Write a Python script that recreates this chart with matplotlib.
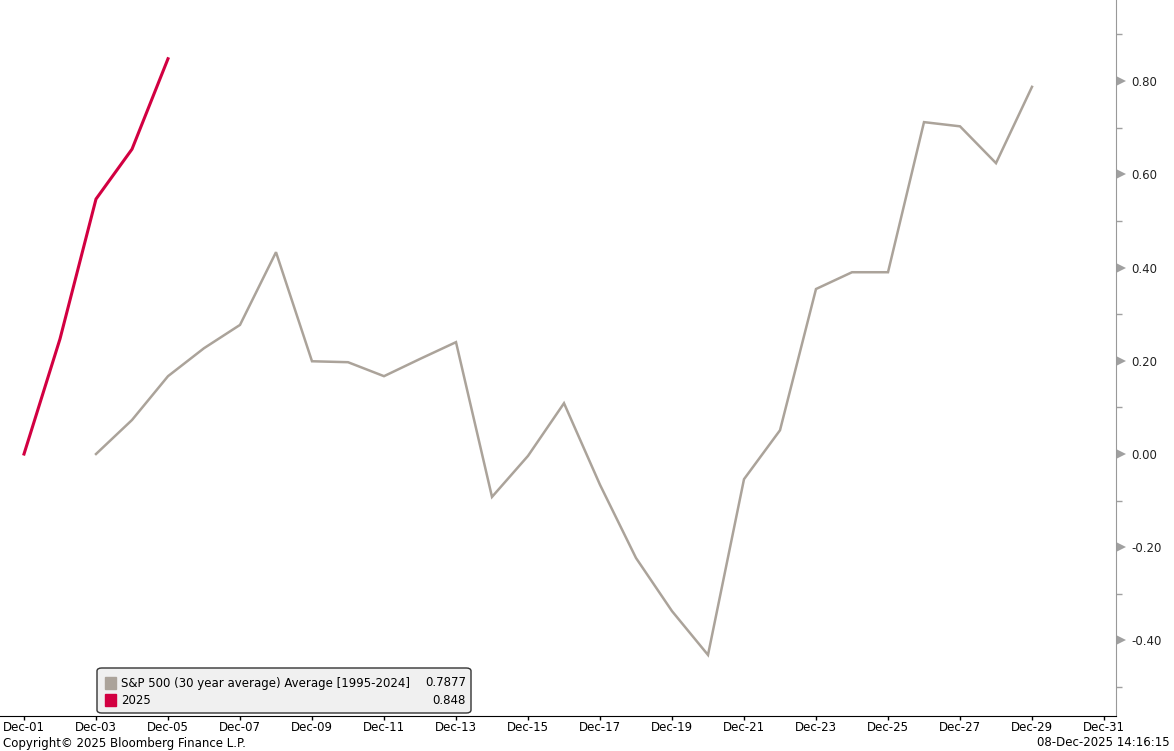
import matplotlib
matplotlib.use("Agg")
import matplotlib.pyplot as plt
import matplotlib.patches as patches
from matplotlib.ticker import MultipleLocator

# Day of December and values
avg_days = list(range(3, 30))
avg_vals = [0.000, 0.073, 0.167, 0.227, 0.277, 0.433, 0.199, 0.197, 0.167,
            0.204, 0.240, -0.092, -0.004, 0.109, -0.066, -0.223, -0.337,
            -0.431, -0.054, 0.051, 0.354, 0.390, 0.390, 0.712, 0.703, 0.624,
            0.7877]
cur_days = [1, 2, 3, 4, 5]
cur_vals = [0.000, 0.247, 0.547, 0.654, 0.848]

tick_days = list(range(1, 32, 2))
tick_labels = ["Dec-%02d" % d for d in tick_days]

legend_rows = [("S&P 500 (30 year average) Average [1995-2024]", "0.7877", "#aba39a"),
               ("2025", "0.848", "#d20041")]

GRAY = "#aba39a"
RED = "#d20041"

plt.rcParams['font.family'] = ['DejaVu Sans']

fig = plt.figure(figsize=(11.74, 7.51), dpi=100)
ax = fig.add_axes([0, 35 / 751, 1116 / 1174, 716 / 751])

ax.plot(avg_days, avg_vals, color=GRAY, lw=1.8, solid_joinstyle='miter')
ax.plot(cur_days, cur_vals, color=RED, lw=2.2, solid_joinstyle='miter')

ax.set_xlim(1 - 24 / 36, 1 + 1092 / 36)
ax.set_ylim(-0.562, 0.974)

# x axis
ax.set_xticks(tick_days)
ax.set_xticklabels(tick_labels, fontsize=8.5)
ax.tick_params(axis='x', direction='out', length=3, width=1, color='black', pad=0.5)

# y axis on the right
ax.yaxis.tick_right()
ax.yaxis.set_major_locator(MultipleLocator(0.2))
ax.yaxis.set_minor_locator(MultipleLocator(0.1))
ax.yaxis.set_major_formatter(plt.FuncFormatter(lambda v, p: "%.2f" % v))
ax.tick_params(axis='y', which='major', direction='out', length=0,
               labelsize=8.5, pad=11, labelcolor='#222222')
ax.tick_params(axis='y', which='minor', direction='out', length=4, width=1,
               color='#a0a0a0')
# wedge-shaped major tick marks like the terminal style
for v in [-0.4, -0.2, 0.0, 0.2, 0.4, 0.6, 0.8]:
    ax.plot([1.0042], [v], marker='>', markersize=6.5, color='#a0a0a0',
            transform=ax.get_yaxis_transform(), clip_on=False,
            markeredgewidth=0)

for s in ['top', 'left']:
    ax.spines[s].set_visible(False)
ax.spines['right'].set_color('#999999')
ax.spines['bottom'].set_color('black')

# legend box
W, H = 1174, 751
box = patches.FancyBboxPatch((97 / W, (H - 713) / H), 374 / W, 45 / H,
                             boxstyle="round,pad=0,rounding_size=0.004",
                             transform=fig.transFigure, facecolor='#f0f0f0',
                             edgecolor='#333333', lw=1, zorder=5)
fig.patches.append(box)
for i, (name, val, col) in enumerate(legend_rows):
    yc = H - 683 - i * 17
    fig.patches.append(patches.Rectangle((105 / W, (yc - 6) / H), 11 / W, 12 / H,
                                         transform=fig.transFigure, color=col, zorder=6))
    fig.text(121 / W, yc / H, name, fontsize=8.5, va='center', ha='left', zorder=7)
    fig.text(466 / W, yc / H, val, fontsize=8.5, va='center', ha='right', zorder=7)

# footer
fig.text(3 / W, (H - 743) / H, "Copyright\u00a9 2025 Bloomberg Finance L.P.",
         fontsize=8.5, va='center', ha='left')
fig.text(1170 / W, (H - 743) / H, "08-Dec-2025 14:16:15",
         fontsize=8.5, va='center', ha='right')

fig.savefig("out.png", dpi=100)
